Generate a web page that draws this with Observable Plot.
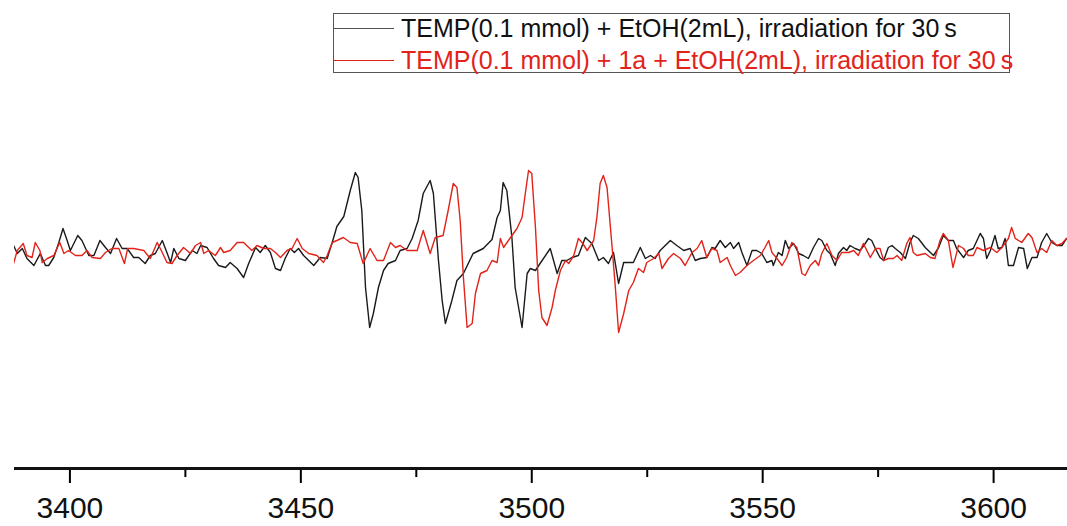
<!DOCTYPE html>
<html><head><meta charset="utf-8">
<script src="https://cdn.jsdelivr.net/npm/d3@7"></script>
<script src="https://cdn.jsdelivr.net/npm/@observablehq/plot@0.6"></script>
<style>
body{margin:0;background:#fff;}
#wrap{position:relative;width:1067px;height:526px;font-family:"Liberation Sans",Arial,sans-serif;}
#legend{position:absolute;left:333px;top:13px;width:677px;height:60px;border:1px solid #555;box-sizing:border-box;background:#fff;}
.row{position:absolute;left:0;height:30px;display:flex;align-items:center;font-size:25px;white-space:nowrap;}
.swatch{width:60px;height:0;border-top:1px solid;margin-right:7px;}
</style></head>
<body><div id="wrap"></div>
<script>
// Legend labels
const seriesNames = [
  "TEMP(0.1 mmol) + EtOH(2mL), irradiation for 30\u2009s",
  "TEMP(0.1 mmol) + 1a + EtOH(2mL), irradiation for 30\u2009s"
];
const seriesColors = ["#1a1a1a", "#e2231a"];
const legendLineColors = ["#555555", "#e2231a"];

// Axis ticks (magnetic field, G)
const majorTicks = [3400, 3450, 3500, 3550, 3600];
const minorTicks = [3425, 3475, 3525, 3575];

// Series 1: TEMP + EtOH (black)
const blackField = [3387.8,3388.6,3389.7,3390.7,3392.2,3393.6,3394.7,3395.4,3396.5,3397.6,3398.5,3399.4,3400.1,3401.7,3402.6,3404.1,3405.2,3406.5,3407.7,3408.8,3410.1,3411.3,3412.4,3413.8,3414.9,3416.3,3417.4,3418.5,3420.0,3421.0,3421.8,3422.5,3423.6,3425.0,3426.5,3427.5,3428.3,3429.7,3431.1,3432.2,3433.7,3434.7,3436.2,3437.6,3438.7,3440.2,3441.2,3442.3,3443.4,3444.5,3445.6,3446.6,3447.7,3448.6,3449.5,3450.6,3451.7,3452.8,3454.2,3455.7,3456.8,3457.8,3459.3,3460.7,3461.8,3462.4,3463.2,3464.0,3464.9,3465.7,3466.8,3467.9,3468.9,3470.5,3471.5,3473.0,3474.1,3475.4,3476.5,3478.0,3478.7,3479.8,3480.6,3481.3,3482.7,3483.8,3485.2,3487.3,3489.5,3491.4,3492.5,3493.2,3493.8,3494.6,3495.7,3496.4,3497.9,3499.0,3499.7,3500.8,3501.8,3504.0,3505.5,3506.5,3507.6,3508.7,3510.1,3511.6,3513.0,3514.5,3515.5,3516.6,3517.7,3518.8,3519.9,3522.0,3523.5,3524.6,3525.7,3526.7,3527.8,3528.9,3530.0,3531.4,3532.9,3534.3,3535.4,3536.5,3537.9,3539.0,3539.7,3540.8,3541.9,3543.0,3543.7,3544.8,3545.5,3546.6,3547.7,3548.7,3549.8,3550.9,3552.0,3552.3,3553.4,3554.2,3554.9,3555.6,3556.7,3557.8,3558.8,3559.9,3561.0,3562.1,3562.8,3563.9,3564.6,3565.7,3566.4,3567.5,3568.2,3568.9,3570.0,3571.1,3572.2,3572.9,3573.6,3574.4,3575.4,3576.2,3577.2,3578.0,3578.7,3579.8,3580.9,3581.9,3582.6,3583.7,3585.2,3586.3,3587.0,3588.1,3589.1,3590.2,3591.3,3592.0,3593.5,3594.5,3595.6,3597.1,3597.8,3598.5,3599.3,3600.3,3601.0,3601.8,3602.5,3603.2,3604.3,3605.4,3606.5,3607.3,3608.3,3609.4,3610.4,3611.5,3612.6,3613.7,3614.8,3615.8];
const blackSignal = [7,-1,4,-6,-13,-1,-13,-13,-5,10,24,12,2,17,12,-3,-3,12,5,-1,14,4,4,-5,-5,-11,-3,-1,12,0,-10,4,-6,-8,2,-1,7,5,-6,-13,-15,-10,-16,-25,-11,5,0,7,0,-16,-18,-6,4,0,4,-3,-8,-13,-5,-6,10,26,36,62,80,75,42,-35,-75,-61,-35,-18,-11,-8,2,4,14,32,59,72,59,-8,-48,-71,-48,-28,-21,-1,4,13,35,42,70,62,15,-35,-75,-21,-16,-18,-11,4,-21,-8,-8,-5,-3,15,9,-8,-5,-11,0,-31,-10,-10,5,-6,-3,-6,2,7,12,7,2,4,-8,-6,-5,5,4,12,5,10,4,10,0,-13,2,2,-1,-10,-8,-13,0,-3,12,4,9,-1,-3,-6,5,14,12,2,-1,-13,-1,5,2,7,4,2,9,14,12,4,-5,-8,5,7,4,0,-6,10,17,14,5,0,-3,5,17,12,12,4,-5,2,4,19,14,-6,2,17,4,5,14,-13,-13,5,4,-16,-5,-5,10,19,10,7,7,14];

// Series 2: TEMP + 1a + EtOH (red)
const redField = [3387.8,3388.6,3389.9,3390.7,3391.8,3392.5,3393.5,3394.0,3395.1,3396.5,3397.8,3398.7,3399.7,3401.2,3402.6,3403.7,3404.8,3406.6,3407.7,3409.1,3410.6,3411.8,3412.5,3413.8,3416.0,3417.4,3418.9,3420.0,3421.0,3422.1,3423.2,3424.6,3426.1,3427.2,3428.3,3429.0,3430.0,3431.5,3432.6,3433.3,3434.7,3436.2,3437.6,3439.4,3440.5,3442.0,3443.4,3444.5,3445.6,3447.0,3448.1,3449.2,3450.3,3451.7,3453.5,3454.9,3455.7,3456.8,3457.8,3459.2,3460.7,3462.2,3463.5,3465.0,3466.5,3467.9,3469.4,3470.5,3471.5,3473.0,3475.2,3476.5,3478.0,3479.1,3480.8,3481.9,3483.0,3483.8,3484.5,3485.2,3486.0,3487.1,3487.8,3488.9,3490.3,3491.4,3492.5,3493.2,3493.9,3495.4,3496.8,3497.9,3498.6,3499.3,3500.0,3500.8,3501.5,3502.2,3503.3,3504.4,3505.1,3506.2,3507.3,3508.0,3509.1,3510.1,3510.9,3512.0,3513.4,3514.1,3514.8,3515.5,3516.3,3517.4,3518.1,3518.8,3519.9,3521.0,3522.0,3523.1,3524.2,3524.9,3526.4,3527.5,3528.2,3529.6,3530.7,3532.2,3533.2,3534.7,3535.8,3536.8,3537.9,3539.0,3540.1,3540.8,3542.3,3543.0,3544.1,3545.1,3546.6,3548.0,3549.5,3550.5,3551.3,3552.0,3553.1,3554.2,3555.2,3556.3,3557.4,3558.5,3559.2,3560.3,3561.4,3562.1,3562.8,3563.9,3565.0,3566.1,3567.1,3568.6,3569.7,3570.7,3571.8,3573.3,3574.4,3575.4,3576.2,3577.2,3578.3,3579.1,3580.1,3581.2,3581.9,3582.6,3583.4,3585.2,3586.3,3587.3,3588.4,3589.1,3590.2,3591.2,3592.4,3593.5,3594.5,3595.6,3596.4,3597.8,3599.3,3600.7,3601.8,3603.2,3603.9,3604.7,3606.1,3607.5,3608.3,3609.4,3610.4,3611.5,3612.6,3613.7,3614.8,3615.8];
const redSignal = [-11,2,9,-3,-5,10,2,-10,-6,-3,10,-1,2,-3,-3,2,-5,-6,0,4,4,-11,4,4,2,-6,10,0,-10,-11,-3,5,-1,7,10,-1,2,-3,5,0,2,10,10,2,7,4,4,0,-5,2,4,14,4,-1,-3,-10,-3,10,12,15,10,9,-11,4,-8,-8,10,5,7,2,2,22,-1,15,17,42,69,65,32,-25,-75,-71,-41,-21,-18,-8,-10,14,5,15,24,35,59,82,79,25,-38,-65,-73,-55,-38,-18,-8,-11,-3,14,10,2,12,35,69,77,65,5,-35,-80,-61,-38,-30,-16,-20,-10,-6,-1,-16,-6,-1,-6,-13,0,4,12,-5,4,2,-10,-5,-13,-23,-20,-13,-8,-3,5,12,0,-6,-13,-5,10,5,-21,-23,-13,-8,-13,-1,9,-3,-8,0,0,2,-3,9,-5,4,4,-8,-6,-6,-3,-8,9,15,0,-3,-1,-5,-6,12,19,12,-15,7,4,-3,-3,5,2,5,0,5,14,25,14,10,19,15,0,4,0,12,7,9,14];

const blackData = blackField.map((f, i) => ({field: f, signal: blackSignal[i]}));
const redData = redField.map((f, i) => ({field: f, signal: redSignal[i]}));

const plot = Plot.plot({
  width: 1067,
  height: 526,
  marginTop: 0,
  marginBottom: 58,
  marginLeft: 14,
  marginRight: 0,
  x: {domain: [3388, 3616], label: null},
  y: {domain: [-216, 252], axis: null},
  style: {fontFamily: "Liberation Sans, Arial, sans-serif", background: "#fff", overflow: "visible"},
  marks: [
    Plot.line(blackData, {x: "field", y: "signal", stroke: seriesColors[0], strokeWidth: 1.4, clip: true}),
    Plot.line(redData, {x: "field", y: "signal", stroke: seriesColors[1], strokeWidth: 1.4, clip: true}),
    Plot.axisX(minorTicks, {tickSize: 9, tickFormat: () => "", strokeWidth: 2, label: null}),
    Plot.axisX(majorTicks, {tickSize: 15, tickPadding: 13, tickFormat: "d", fontSize: 30, strokeWidth: 2, label: null, fill: "#111"}),
    Plot.ruleY([-216], {strokeWidth: 3, stroke: "#111"})
  ]
});

const wrap = document.getElementById("wrap");
wrap.appendChild(plot);

const legend = document.createElement("div");
legend.id = "legend";
seriesNames.forEach((name, i) => {
  const row = document.createElement("div");
  row.className = "row";
  row.style.top = (i === 0 ? -1 : 31) + "px";
  row.style.color = i === 0 ? "#111" : seriesColors[1];
  const sw = document.createElement("span");
  sw.className = "swatch";
  sw.style.borderTopColor = legendLineColors[i];
  const t = document.createElement("span");
  t.textContent = name;
  row.appendChild(sw);
  row.appendChild(t);
  legend.appendChild(row);
});
wrap.appendChild(legend);
</script></body></html>
